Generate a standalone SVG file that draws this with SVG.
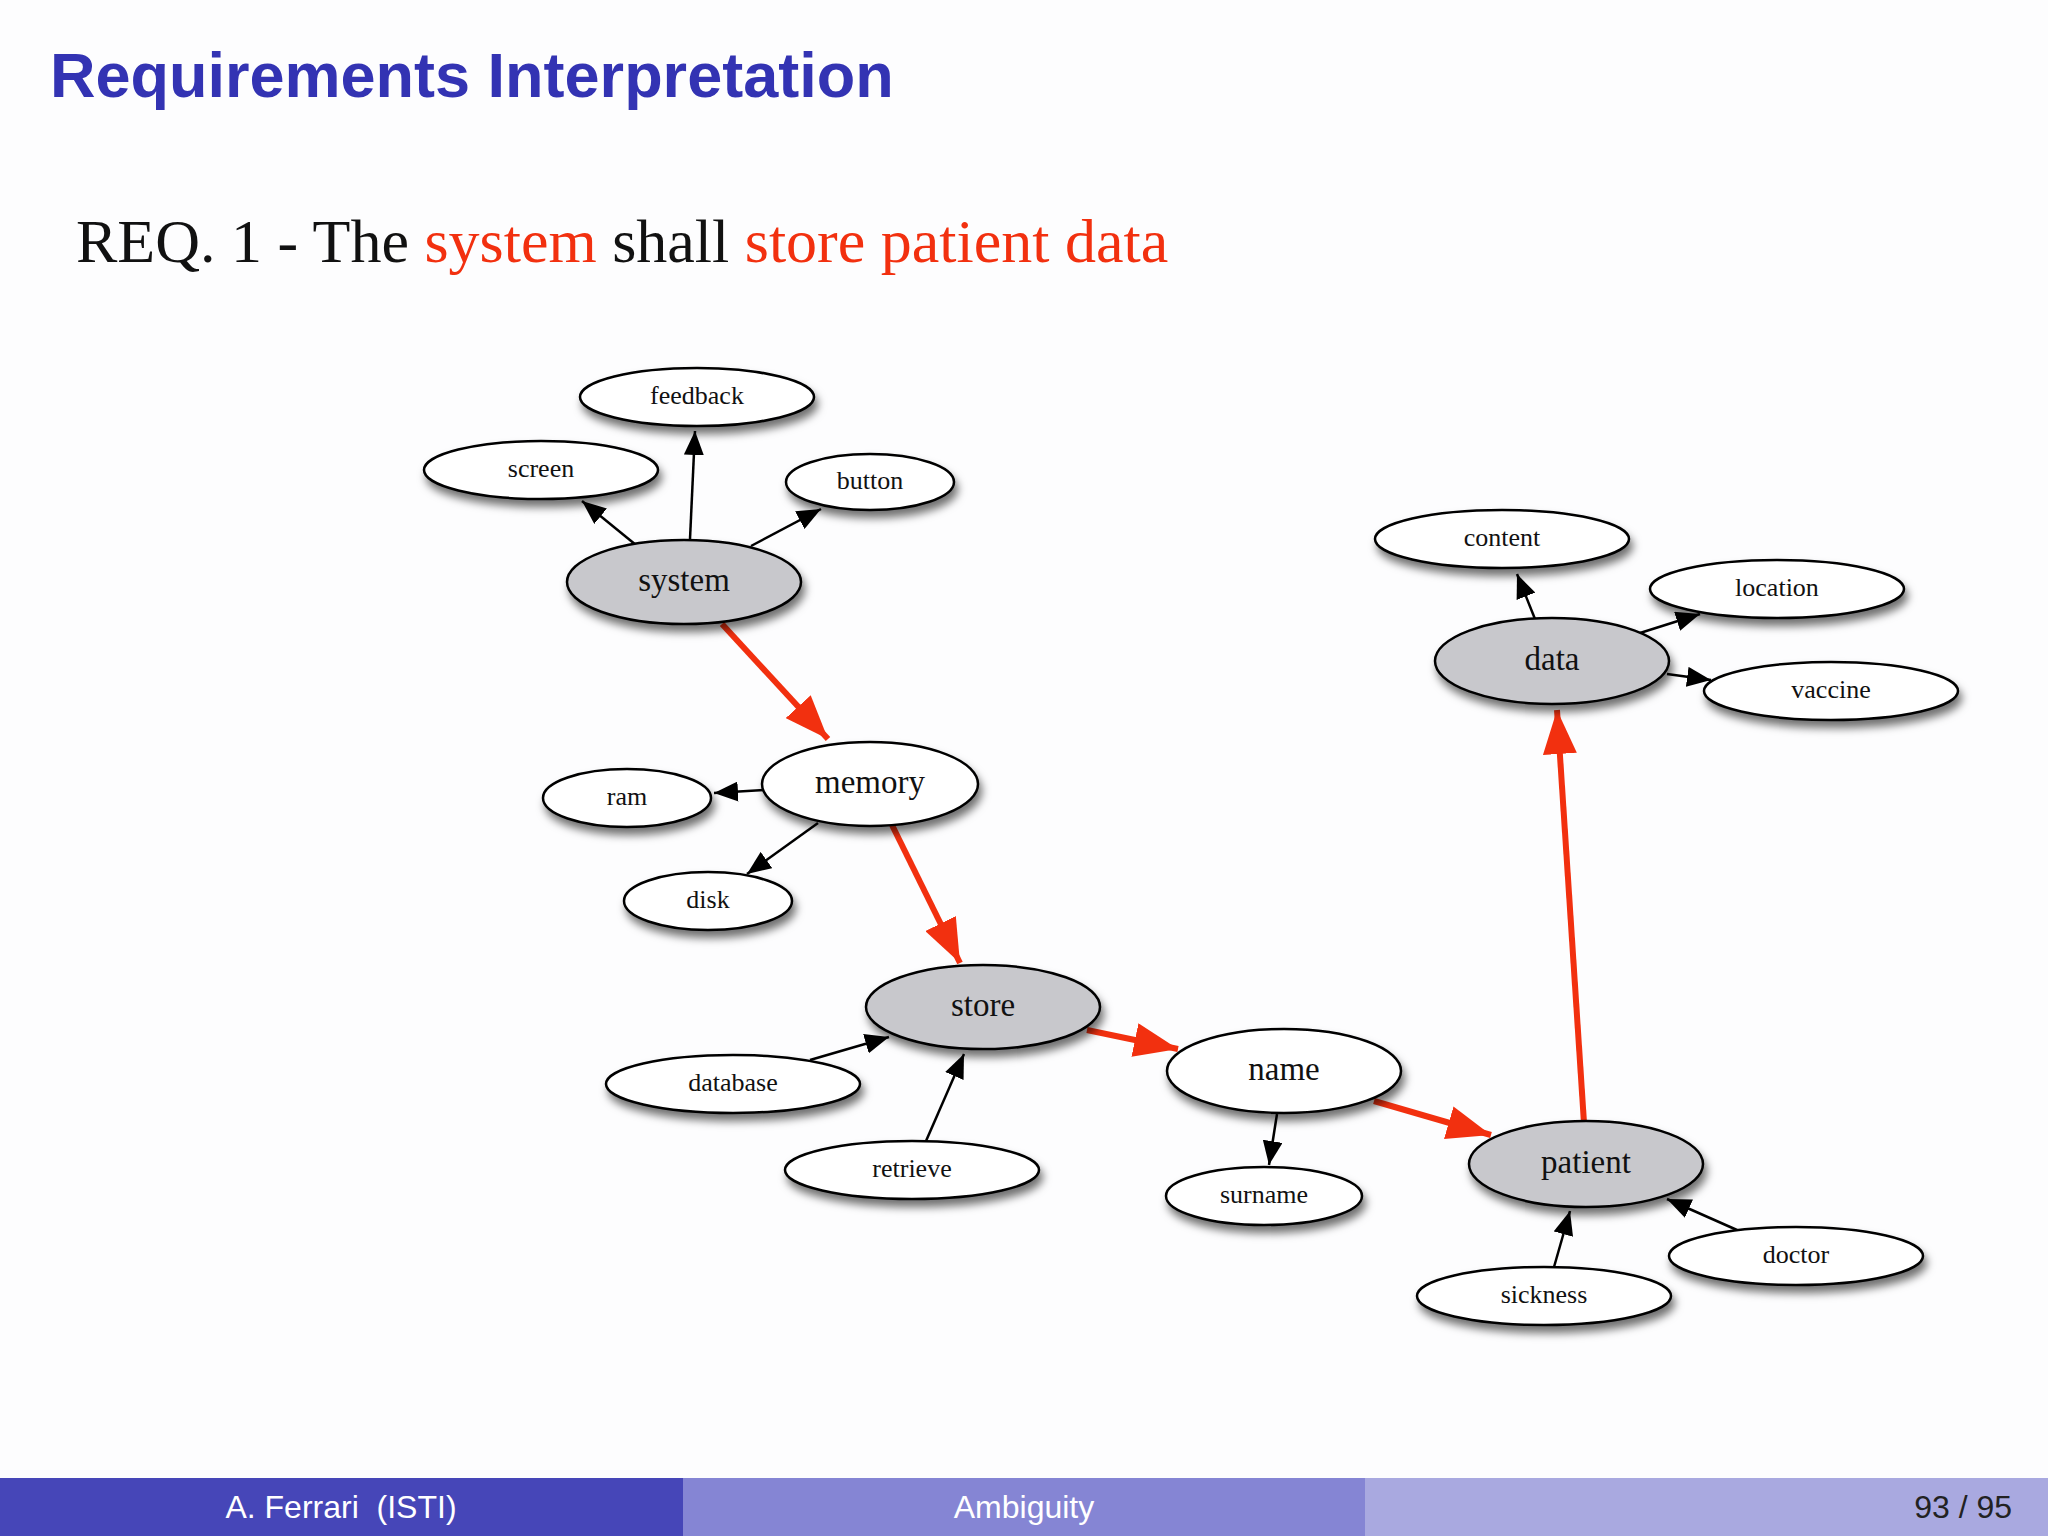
<svg xmlns="http://www.w3.org/2000/svg" width="2048" height="1536" viewBox="0 0 2048 1536">
<style>
.n ellipse{fill:#fff;stroke:#000;stroke-width:2.5;filter:url(#sh)}
.g ellipse{fill:#c8c8cc}
.n text{font-family:"Liberation Serif",serif;font-size:26px;text-anchor:middle;dominant-baseline:central;fill:#111}
.g text,.b text{font-size:33px}
.k{stroke:#000;stroke-width:2.5;fill:none;marker-end:url(#ak)}
.r{stroke:#f2300f;stroke-width:6;fill:none;marker-end:url(#ar)}
</style>
<defs>
<filter id="sh" x="-20%" y="-30%" width="140%" height="170%"><feDropShadow dx="3" dy="7" stdDeviation="4" flood-color="#000" flood-opacity="0.55"/></filter>
<marker id="ak" markerUnits="userSpaceOnUse" markerWidth="24" markerHeight="20" viewBox="0 0 24 20" refX="24" refY="10" orient="auto"><path d="M0,0 L24,10 L0,20 z" fill="#000"/></marker>
<marker id="ar" markerUnits="userSpaceOnUse" markerWidth="44" markerHeight="34" viewBox="0 0 44 34" refX="44" refY="17" orient="auto"><path d="M0,0 L44,17 L0,34 z" fill="#f2300f"/></marker>
</defs>
<rect width="2048" height="1536" fill="#fdfdfe"/>
<text x="50" y="97" font-family="Liberation Sans,Arial,sans-serif" font-weight="bold" font-size="63" fill="#3333b3">Requirements Interpretation</text>
<text x="76" y="262" font-family="Liberation Serif,serif" font-size="62" fill="#111">REQ. 1 - The <tspan fill="#f2300f">system</tspan> shall <tspan fill="#f2300f">store patient data</tspan></text>
<g id="connectors">
<line class="k" x1="636" y1="545" x2="582" y2="501"/>
<line class="k" x1="690" y1="539" x2="695" y2="431"/>
<line class="k" x1="751" y1="546" x2="821" y2="509"/>
<line class="r" x1="722" y1="624" x2="828" y2="739"/>
<line class="k" x1="764" y1="790" x2="714" y2="793"/>
<line class="k" x1="818" y1="823" x2="747" y2="874"/>
<line class="r" x1="892" y1="825" x2="960" y2="963"/>
<line class="k" x1="810" y1="1060" x2="889" y2="1037"/>
<line class="k" x1="926" y1="1141" x2="964" y2="1054"/>
<line class="r" x1="1087" y1="1030" x2="1178" y2="1049"/>
<line class="k" x1="1277" y1="1114" x2="1269" y2="1165"/>
<line class="r" x1="1374" y1="1101" x2="1491" y2="1135"/>
<line class="k" x1="1554" y1="1267" x2="1570" y2="1211"/>
<line class="k" x1="1737" y1="1230" x2="1667" y2="1199"/>
<line class="r" x1="1584" y1="1123" x2="1557" y2="710"/>
<line class="k" x1="1535" y1="619" x2="1517" y2="574"/>
<line class="k" x1="1640" y1="633" x2="1700" y2="614"/>
<line class="k" x1="1667" y1="674" x2="1711" y2="680"/>
</g>
<g id="feedback" class="n"><ellipse cx="697" cy="397" rx="117" ry="29"/><text x="697" y="395">feedback</text></g>
<g id="screen" class="n"><ellipse cx="541" cy="470" rx="117" ry="29"/><text x="541" y="468">screen</text></g>
<g id="button" class="n"><ellipse cx="870" cy="482" rx="84" ry="28"/><text x="870" y="480">button</text></g>
<g id="system" class="n g"><ellipse cx="684" cy="582" rx="117" ry="42"/><text x="684" y="580">system</text></g>
<g id="content" class="n"><ellipse cx="1502" cy="539" rx="127" ry="29"/><text x="1502" y="537">content</text></g>
<g id="location" class="n"><ellipse cx="1777" cy="589" rx="127" ry="29"/><text x="1777" y="587">location</text></g>
<g id="data" class="n g"><ellipse cx="1552" cy="661" rx="117" ry="43"/><text x="1552" y="659">data</text></g>
<g id="vaccine" class="n"><ellipse cx="1831" cy="691" rx="127" ry="29"/><text x="1831" y="689">vaccine</text></g>
<g id="memory" class="n b"><ellipse cx="870" cy="784" rx="108" ry="42"/><text x="870" y="782">memory</text></g>
<g id="ram" class="n"><ellipse cx="627" cy="798" rx="84" ry="29"/><text x="627" y="796">ram</text></g>
<g id="disk" class="n"><ellipse cx="708" cy="901" rx="84" ry="29"/><text x="708" y="899">disk</text></g>
<g id="store" class="n g"><ellipse cx="983" cy="1007" rx="117" ry="42"/><text x="983" y="1005">store</text></g>
<g id="database" class="n"><ellipse cx="733" cy="1084" rx="127" ry="29"/><text x="733" y="1082">database</text></g>
<g id="retrieve" class="n"><ellipse cx="912" cy="1170" rx="127" ry="29"/><text x="912" y="1168">retrieve</text></g>
<g id="name" class="n b"><ellipse cx="1284" cy="1071" rx="117" ry="42"/><text x="1284" y="1069">name</text></g>
<g id="surname" class="n"><ellipse cx="1264" cy="1196" rx="98" ry="29"/><text x="1264" y="1194">surname</text></g>
<g id="patient" class="n g"><ellipse cx="1586" cy="1164" rx="117" ry="43"/><text x="1586" y="1162">patient</text></g>
<g id="sickness" class="n"><ellipse cx="1544" cy="1296" rx="127" ry="29"/><text x="1544" y="1294">sickness</text></g>
<g id="doctor" class="n"><ellipse cx="1796" cy="1256" rx="127" ry="29"/><text x="1796" y="1254">doctor</text></g>
<g id="footer" font-family="Liberation Sans,Arial,sans-serif" font-size="32">
<rect x="0" y="1478" width="683" height="58" fill="#4646b8"/>
<rect x="683" y="1478" width="682" height="58" fill="#8585d4"/>
<rect x="1365" y="1478" width="683" height="58" fill="#a9a9e0"/>
<text x="341" y="1518" text-anchor="middle" fill="#fff" xml:space="preserve">A. Ferrari  (ISTI)</text>
<text x="1024" y="1518" text-anchor="middle" fill="#fff">Ambiguity</text>
<text x="2012" y="1518" text-anchor="end" fill="#222">93 / 95</text>
</g>
</svg>
